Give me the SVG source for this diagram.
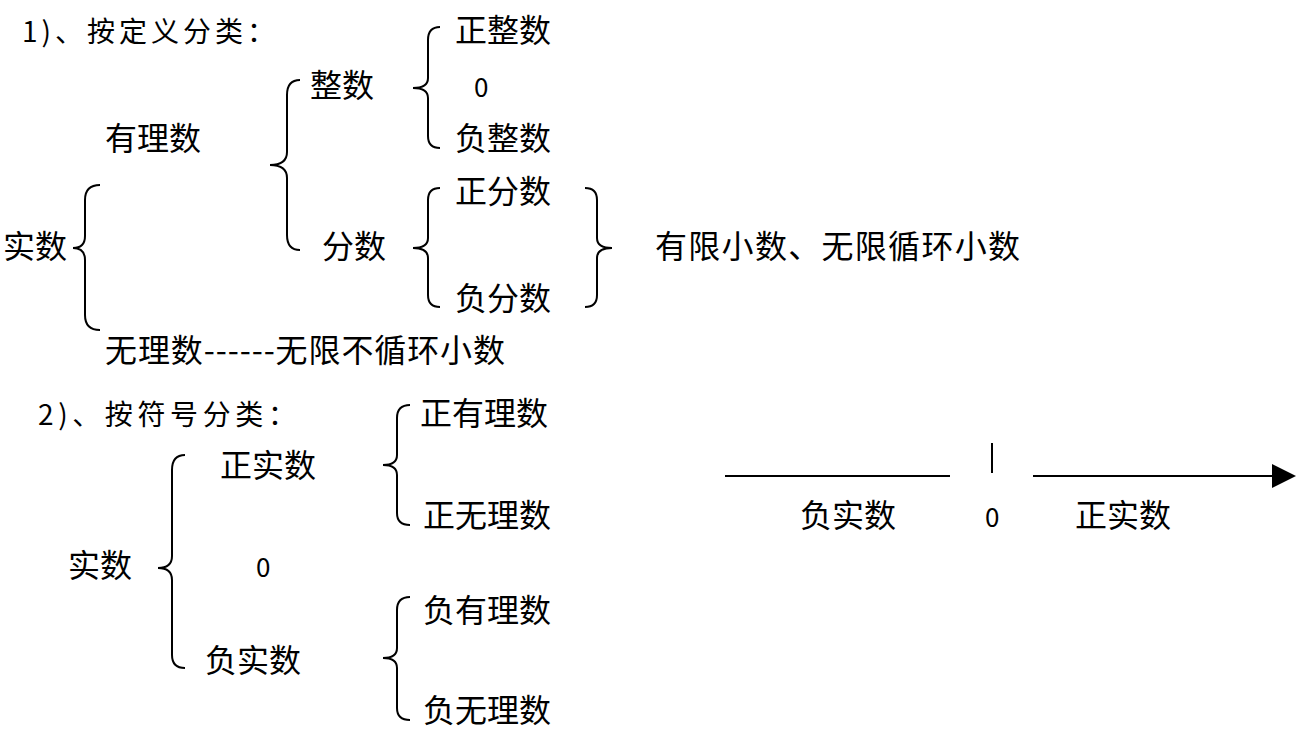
<svg xmlns="http://www.w3.org/2000/svg" width="1300" height="741" viewBox="0 0 1300 741">
<style>
text{font-family:"Noto Sans CJK SC","Liberation Sans",sans-serif;font-size:32px;fill:#000}
.s{font-size:28px}
.z{font-size:26px}
.b{fill:none;stroke:#000;stroke-width:2}
</style>
<rect width="1300" height="741" fill="#fff"/>
<g id="connectors">
<path class="b" d="M100,185 Q85,185 85,200 L85,236 Q85,248 73,248 Q85,248 85,260 L85,315 Q85,330 100,330"/>
<path class="b" d="M300,80 Q287,80 287,95 L287,152 Q287,165 270,165 Q287,165 287,178 L287,235 Q287,250 300,250"/>
<path class="b" d="M440,27 Q428,27 428,40 L428,78 Q428,88 413,88 Q428,88 428,98 L428,136 Q428,148 440,148"/>
<path class="b" d="M440,188 Q428,188 428,200 L428,238 Q428,248 413,248 Q428,248 428,258 L428,295 Q428,307 440,307"/>
<path class="b" d="M585,188 Q597,188 597,200 L597,238 Q597,248 612,248 Q597,248 597,258 L597,295 Q597,307 585,307"/>
<path class="b" d="M410,405 Q397,405 397,418 L397,455 Q397,465 383,465 Q397,465 397,475 L397,513 Q397,525 410,525"/>
<path class="b" d="M185,455 Q172,455 172,470 L172,556 Q172,568 158,568 Q172,568 172,580 L172,655 Q172,668 185,668"/>
<path class="b" d="M410,597 Q397,597 397,610 L397,648 Q397,658 383,658 Q397,658 397,668 L397,708 Q397,720 410,720"/>
<line x1="725" y1="476" x2="950" y2="476" stroke="#000" stroke-width="2"/>
<line x1="992" y1="443" x2="992" y2="473" stroke="#000" stroke-width="2"/>
<line x1="1033" y1="476" x2="1275" y2="476" stroke="#000" stroke-width="2"/>
<polygon points="1272,464 1296,476 1272,488" fill="#000"/>
</g>
<g id="labels">
<text class="s" x="22" y="42" textLength="253">1)、按定义分类：</text>
<text x="455" y="42">正整数</text>
<text x="310" y="97">整数</text>
<text x="474" y="97" class="z">0</text>
<text x="105" y="150">有理数</text>
<text x="455" y="150">负整数</text>
<text x="455" y="203">正分数</text>
<text x="3" y="258">实数</text>
<text x="322" y="258">分数</text>
<text x="655" y="258" textLength="365">有限小数、无限循环小数</text>
<text x="455" y="310">负分数</text>
<text x="105" y="362" textLength="400">无理数------无限不循环小数</text>
<text class="s" x="38" y="425" textLength="258">2)、按符号分类：</text>
<text x="420" y="425">正有理数</text>
<text x="220" y="477">正实数</text>
<text x="423" y="527">正无理数</text>
<text x="68" y="577">实数</text>
<text class="z" x="256" y="577">0</text>
<text x="423" y="622">负有理数</text>
<text x="205" y="672">负实数</text>
<text x="423" y="722">负无理数</text>
<text x="800" y="527">负实数</text>
<text class="z" x="985" y="527">0</text>
<text x="1075" y="527">正实数</text>
</g>
</svg>
